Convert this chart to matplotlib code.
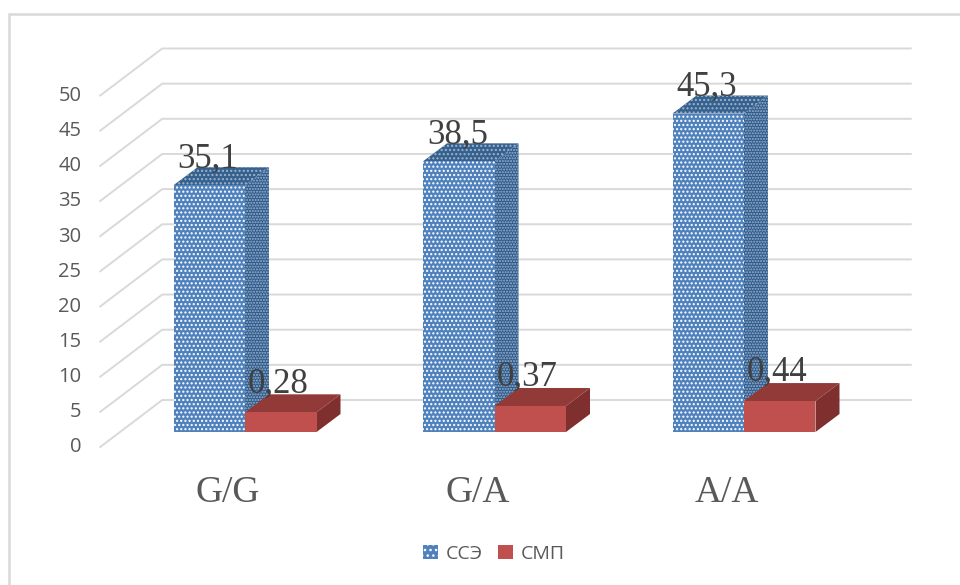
import matplotlib
matplotlib.use("Agg")
import matplotlib.pyplot as plt
from matplotlib.lines import Line2D
from matplotlib.patches import Patch, Polygon
from matplotlib.transforms import ScaledTranslation

genotypes = ["G/G", "G/A", "A/A"]
sse = [35.1, 38.5, 45.3]
smp = [0.28, 0.37, 0.44]
sse_labels = ["35,1", "38,5", "45,3"]
smp_labels = ["0,28", "0,37", "0,44"]
y_ticks = [0, 5, 10, 15, 20, 25, 30, 35, 40, 45, 50]

# СМП is drawn on a x10 scale so it shows up next to ССЭ
SMP_SCALE = 10

W, H = 960, 585
LEFT, RIGHT, BASE, TOP = 120.25, 868.75, 432, 80.5
PX_X = 3 / (RIGHT - LEFT)
PX_Y = 50 / (BASE - TOP)
BAR_W = 71.5 * PX_X
GRID = "#d9d9d9"

fig = plt.figure(figsize=(W / 100, H / 100), dpi=100)
ax = fig.add_axes([LEFT / W, 1 - BASE / H, (RIGHT - LEFT) / W, (BASE - TOP) / H])
ax.set_xlim(-0.5, 2.5)
ax.set_ylim(0, 50)
for s in ax.spines.values():
    s.set_visible(False)


def shift(x, y, dx, dy):
    # dx, dy in pixels, dy up
    return x + dx * PX_X, y + dy * PX_Y


def box(x0, width, height, front, side, top, dotted=False):
    dx, dy = 24, 18
    x1 = x0 + width
    faces = [
        ([(x1, 0), (x1, height), shift(x1, height, dx, dy), shift(x1, 0, dx, dy)], side, "#9fb4cc", "......"),
        ([(x0, height), (x1, height), shift(x1, height, dx, dy), shift(x0, height, dx, dy)], top, "#9fb4cc", "...."),
        ([(x0, 0), (x1, 0), (x1, height), (x0, height)], front, "white", "...."),
    ]
    for pts, color, dots, hatch in faces:
        ax.add_patch(Polygon(pts, closed=True, facecolor=color, edgecolor=dots if dotted else color,
                             lw=0, hatch=hatch if dotted else None, zorder=3, clip_on=False))


# back wall and side wall grid
for t in y_ticks:
    bx, by = shift(-0.5, t, 42, 32)
    fx, fy = shift(-0.5, t, -20, -15)
    ax.plot([fx, bx, 2.5 + 42 * PX_X], [fy, by, by], color=GRID, lw=1.4, zorder=1,
            clip_on=False, solid_joinstyle="miter")

for i, name in enumerate(genotypes):
    box(i - BAR_W, BAR_W, sse[i], "#4f81bd", "#2c5a8c", "#35618f", dotted=True)
    box(i, BAR_W, smp[i] * SMP_SCALE, "#c0504d", "#7f2f2d", "#923a38")
    ax.text(i - 37 * PX_X, sse[i] + 18 * PX_Y, sse_labels[i], family="Liberation Serif", fontsize=25,
            color="#404040", ha="center", va="baseline", zorder=5)
    ax.text(i + 33 * PX_X, smp[i] * SMP_SCALE + 20 * PX_Y, smp_labels[i], family="Liberation Serif", fontsize=25,
            color="#404040", ha="center", va="baseline", zorder=5)

ax.set_yticks(y_ticks)
ax.set_xticks(range(3))
ax.set_xticklabels(genotypes, family="Liberation Serif", fontsize=27, color="#595959")
ax.tick_params(axis="both", length=0)
ax.tick_params(axis="y", labelsize=14.5, labelcolor="#595959", pad=28)
ax.tick_params(axis="x", pad=31)
for lab in ax.get_yticklabels():
    lab.set_family("Open Sans")
    lab.set_transform(lab.get_transform() + ScaledTranslation(0, -13 / 100, fig.dpi_scale_trans))
for lab in ax.get_xticklabels():
    lab.set_transform(lab.get_transform() + ScaledTranslation(-17 / 100, 0, fig.dpi_scale_trans))

handles = [Patch(facecolor="#4f81bd", edgecolor="white", lw=0, hatch="...", label="ССЭ"),
           Patch(facecolor="#c0504d", lw=0, label="СМП")]
fig.legend(handles=handles, loc="center", bbox_to_anchor=(494 / W, 1 - 554 / H), ncol=2, frameon=False,
           prop={"family": "Open Sans", "size": 14}, labelcolor="#595959",
           handlelength=0.75, handleheight=0.75, handletextpad=0.4, columnspacing=0.8)

# chart area border, open at the right and bottom
fig.add_artist(Line2D([8.5 / W, 8.5 / W, 1], [0, 1 - 13.5 / H, 1 - 13.5 / H], color=GRID, lw=1.8,
                      solid_joinstyle="miter"))

fig.savefig("out.png", dpi=100)
